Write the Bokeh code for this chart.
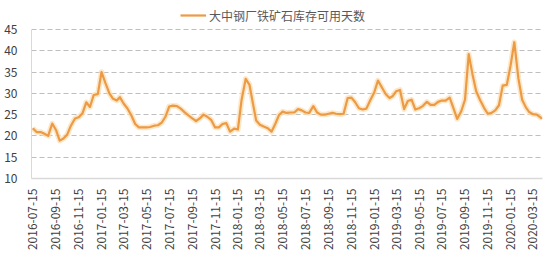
import math
import pandas as pd
from bokeh.plotting import figure
from bokeh.models import (ColumnDataSource, Range1d, FixedTicker, Legend, LegendItem,
                          DatetimeTickFormatter)
from bokeh.embed import file_html
from bokeh.resources import INLINE

series_name = "大中钢厂铁矿石库存可用天数"

dates = [
    "2016-07-15", "2016-07-25", "2016-08-05", "2016-08-15", "2016-08-25", "2016-09-05",
    "2016-09-15", "2016-09-25", "2016-10-05", "2016-10-15", "2016-10-25", "2016-11-05",
    "2016-11-15", "2016-11-25", "2016-12-05", "2016-12-15", "2016-12-25", "2017-01-05",
    "2017-01-15", "2017-01-25", "2017-02-05", "2017-02-15", "2017-02-25", "2017-03-05",
    "2017-03-15", "2017-03-25", "2017-04-05", "2017-04-15", "2017-04-25", "2017-05-05",
    "2017-05-15", "2017-05-25", "2017-06-05", "2017-06-15", "2017-06-25", "2017-07-05",
    "2017-07-15", "2017-07-25", "2017-08-05", "2017-08-15", "2017-08-25", "2017-09-05",
    "2017-09-15", "2017-09-25", "2017-10-05", "2017-10-15", "2017-10-25", "2017-11-05",
    "2017-11-15", "2017-11-25", "2017-12-05", "2017-12-15", "2017-12-25", "2018-01-05",
    "2018-01-15", "2018-01-25", "2018-02-05", "2018-02-15", "2018-02-25", "2018-03-05",
    "2018-03-15", "2018-03-25", "2018-04-05", "2018-04-15", "2018-04-25", "2018-05-05",
    "2018-05-15", "2018-05-25", "2018-06-05", "2018-06-15", "2018-06-25", "2018-07-05",
    "2018-07-15", "2018-07-25", "2018-08-05", "2018-08-15", "2018-08-25", "2018-09-05",
    "2018-09-15", "2018-09-25", "2018-10-05", "2018-10-15", "2018-10-25", "2018-11-05",
    "2018-11-15", "2018-11-25", "2018-12-05", "2018-12-15", "2018-12-25", "2019-01-05",
    "2019-01-15", "2019-01-25", "2019-02-05", "2019-02-15", "2019-02-25", "2019-03-05",
    "2019-03-15", "2019-03-25", "2019-04-05", "2019-04-15", "2019-04-25", "2019-05-05",
    "2019-05-15", "2019-05-25", "2019-06-05", "2019-06-15", "2019-06-25", "2019-07-05",
    "2019-07-15", "2019-07-25", "2019-08-05", "2019-08-15", "2019-08-25", "2019-09-05",
    "2019-09-15", "2019-09-25", "2019-10-05", "2019-10-15", "2019-10-25", "2019-11-05",
    "2019-11-15", "2019-11-25", "2019-12-05", "2019-12-15", "2019-12-25", "2020-01-05",
    "2020-01-15", "2020-01-25", "2020-02-05", "2020-02-15", "2020-02-25", "2020-03-05",
    "2020-03-15", "2020-03-25", "2020-04-05", "2020-04-08",
]

days_available = [
    21.8, 20.9, 20.9, 20.5, 20.0, 22.9,
    21.4, 18.9, 19.4, 20.3, 22.4, 24.1,
    24.4, 25.3, 27.9, 26.8, 29.6, 29.8,
    35.0, 32.5, 30.0, 28.7, 28.3, 29.1,
    27.6, 26.5, 24.8, 22.8, 22.0, 22.0,
    22.0, 22.1, 22.4, 22.5, 23.1, 24.5,
    26.9, 27.1, 27.0, 26.4, 25.6, 24.8,
    24.1, 23.5, 24.1, 25.0, 24.5, 23.7,
    22.0, 22.0, 22.8, 23.0, 21.0, 21.7,
    21.5, 28.5, 33.4, 32.0, 27.3, 23.6,
    22.6, 22.2, 21.8, 21.0, 22.8, 24.9,
    25.7, 25.4, 25.5, 25.5, 26.3, 26.0,
    25.5, 25.4, 27.0, 25.5, 25.0, 25.0,
    25.2, 25.4, 25.2, 25.1, 25.2, 28.9,
    29.0, 27.9, 26.5, 26.2, 26.4, 28.5,
    30.2, 33.0, 31.3, 29.8, 28.9, 29.3,
    30.5, 30.8, 26.3, 28.2, 28.5, 26.2,
    26.5, 27.0, 28.0, 27.3, 27.3, 28.0,
    28.3, 28.3, 29.0, 26.5, 24.0, 25.8,
    28.5, 39.2, 34.5, 30.5, 28.5, 26.6,
    25.2, 25.4, 26.0, 27.2, 31.8, 32.0,
    36.5, 42.0, 33.5, 28.5, 26.7, 25.6,
    25.1, 25.0, 24.3, 24.0,
]

tick_labels = [
    "2016-07-15", "2016-09-15", "2016-11-15", "2017-01-15", "2017-03-15", "2017-05-15",
    "2017-07-15", "2017-09-15", "2017-11-15", "2018-01-15", "2018-03-15", "2018-05-15",
    "2018-07-15", "2018-09-15", "2018-11-15", "2019-01-15", "2019-03-15", "2019-05-15",
    "2019-07-15", "2019-09-15", "2019-11-15", "2020-01-15", "2020-03-15",
]

y_ticks = [10, 15, 20, 25, 30, 35, 40, 45]

FONT = "Noto Sans CJK SC"

src = ColumnDataSource(dict(d=pd.to_datetime(dates), v=days_available))

# the frame reaches the top edge; the headroom above 45 holds the legend
p = figure(width=550, height=256, x_axis_type="datetime",
           output_backend="svg", toolbar_location=None,
           x_range=Range1d(pd.Timestamp("2016-07-11 12:00"), pd.Timestamp("2020-04-09 12:00")),
           y_range=Range1d(10, 51.8),
           min_border_left=31, min_border_right=8, min_border_top=0, min_border_bottom=78)
p.outline_line_color = None
p.background_fill_color = "white"
p.border_fill_color = "white"

glow = p.line("d", "v", source=src, line_color="#FBDDB0", line_width=5.5, line_alpha=0.7,
              line_join="round")
main = p.line("d", "v", source=src, line_color="#ED9A44", line_width=2.2, line_join="round")

# axes
tick_ms = [float((pd.Timestamp(t) - pd.Timestamp("1970-01-01")) / pd.Timedelta(milliseconds=1))
           for t in tick_labels]
p.xaxis.ticker = FixedTicker(ticks=tick_ms)
fmt = "%Y-%m-%d"
p.xaxis.formatter = DatetimeTickFormatter(
    milliseconds=fmt, seconds=fmt, minsec=fmt, minutes=fmt, hourmin=fmt, hours=fmt,
    days=fmt, months=fmt, years=fmt)
p.xaxis.major_label_orientation = math.pi / 2
p.xaxis.major_tick_line_color = None
p.xaxis.minor_tick_line_color = None
p.xaxis.axis_line_color = "#D9D9D9"
p.xaxis.axis_line_width = 1.5
p.xaxis.major_label_text_font = FONT
p.xaxis.major_label_text_font_size = "12px"
p.xaxis.major_label_text_color = "#404040"
p.xaxis.major_label_standoff = 4

p.yaxis.ticker = FixedTicker(ticks=y_ticks)
p.yaxis.bounds = (min(y_ticks), max(y_ticks))
p.yaxis.major_tick_line_color = None
p.yaxis.minor_tick_line_color = None
p.yaxis.axis_line_color = "#D9D9D9"
p.yaxis.major_label_text_font = FONT
p.yaxis.major_label_text_font_size = "12px"
p.yaxis.major_label_text_color = "#404040"
p.yaxis.major_label_standoff = 8

p.xgrid.visible = False
p.ygrid.grid_line_color = "#BFBFBF"
p.ygrid.grid_line_dash = "5 3"
p.ygrid.grid_line_width = 1

legend = Legend(items=[LegendItem(label=series_name, renderers=[main])],
                orientation="horizontal", location=(149, 153),
                label_text_font=FONT, label_text_font_size="12px",
                label_text_color="#595959", glyph_width=26, label_standoff=3,
                padding=4, margin=0, border_line_color=None,
                background_fill_alpha=0)
p.add_layout(legend)

open("out.html", "w").write(file_html(p, INLINE))
